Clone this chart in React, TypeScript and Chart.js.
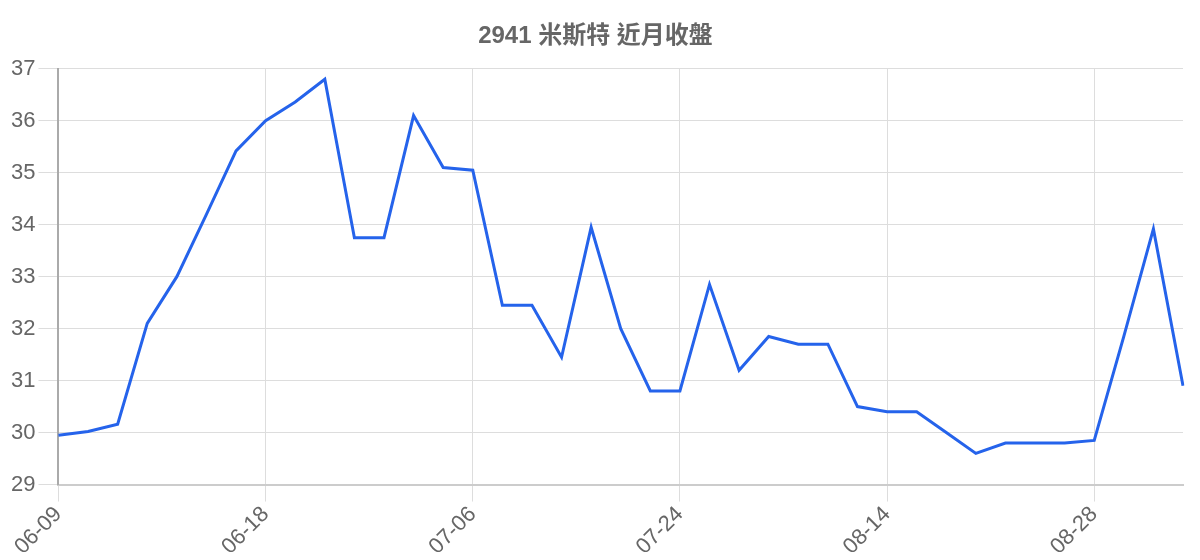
import { useEffect, useRef } from "react"
import { Chart, registerables } from "chart.js"

Chart.register(...registerables)

const chartTitle = "2941 米斯特 近月收盤"

const dates = [
  "06-09", "06-10", "06-11", "06-12", "06-13", "06-16", "06-17",
  "06-18", "06-20", "06-23", "06-25", "06-27", "06-30", "07-02",
  "07-06", "07-08", "07-10", "07-14", "07-16", "07-18", "07-22",
  "07-24", "07-28", "07-30", "08-01", "08-05", "08-07", "08-11",
  "08-14", "08-15", "08-18", "08-19", "08-20", "08-21", "08-25",
  "08-28", "08-29", "09-01", "09-02",
]

const closes = [
  29.95, 30.02, 30.16, 32.1, 33.0, 34.2, 35.42,
  36.0, 36.36, 36.8, 33.75, 33.75, 36.1, 35.1,
  35.05, 32.45, 32.45, 31.45, 33.95, 32.0, 30.8,
  30.8, 32.85, 31.2, 31.85, 31.7, 31.7, 30.5,
  30.4, 30.4, 30.0, 29.6, 29.8, 29.8, 29.8,
  29.85, 31.85, 33.92, 30.9,
]

const labelEvery = 7
const fontFamily = 'Arial, "Liberation Sans", "Noto Sans CJK TC", sans-serif'

export default function App() {
  const chartRef = useRef<HTMLCanvasElement>(null)
  const chartInstance = useRef<Chart | null>(null)

  useEffect(() => {
    if (!chartRef.current) return
    if (chartInstance.current) chartInstance.current.destroy()

    const ctx = chartRef.current.getContext("2d")
    if (!ctx) return

    chartInstance.current = new Chart(ctx, {
      type: "line",
      data: {
        labels: dates,
        datasets: [
          {
            label: "收盤",
            data: closes,
            borderColor: "#2563eb",
            borderWidth: 3,
            pointRadius: 0,
            tension: 0,
            fill: false,
          },
        ],
      },
      options: {
        animation: false,
        responsive: true,
        maintainAspectRatio: false,
        layout: { padding: { right: 9 } },
        plugins: {
          legend: { display: false },
          title: {
            display: true,
            text: chartTitle,
            color: "#666",
            font: { family: fontFamily, size: 24, weight: "bold" },
            padding: { top: 14, bottom: 18 },
          },
        },
        scales: {
          x: {
            offset: false,
            grid: { color: "#ddd", tickLength: 17 },
            border: { color: "#ccc", width: 2 },
            ticks: {
              autoSkip: false,
              maxRotation: 45,
              minRotation: 45,
              padding: 0,
              color: "#666",
              font: { family: fontFamily, size: 22 },
              callback: (_v, i) => (i % labelEvery === 0 ? dates[i] : null),
            },
          },
          y: {
            min: 29,
            max: 37,
            grid: { color: "#ddd", tickLength: 20 },
            border: { color: "#aaa", width: 2 },
            ticks: {
              stepSize: 1,
              color: "#666",
              font: { family: fontFamily, size: 22 },
            },
          },
        },
      },
    })

    return () => {
      if (chartInstance.current) {
        chartInstance.current.destroy()
        chartInstance.current = null
      }
    }
  }, [])

  return (
    <div style={{ height: 552, width: "100%", marginBottom: -8 }}>
      <canvas ref={chartRef} />
    </div>
  )
}
